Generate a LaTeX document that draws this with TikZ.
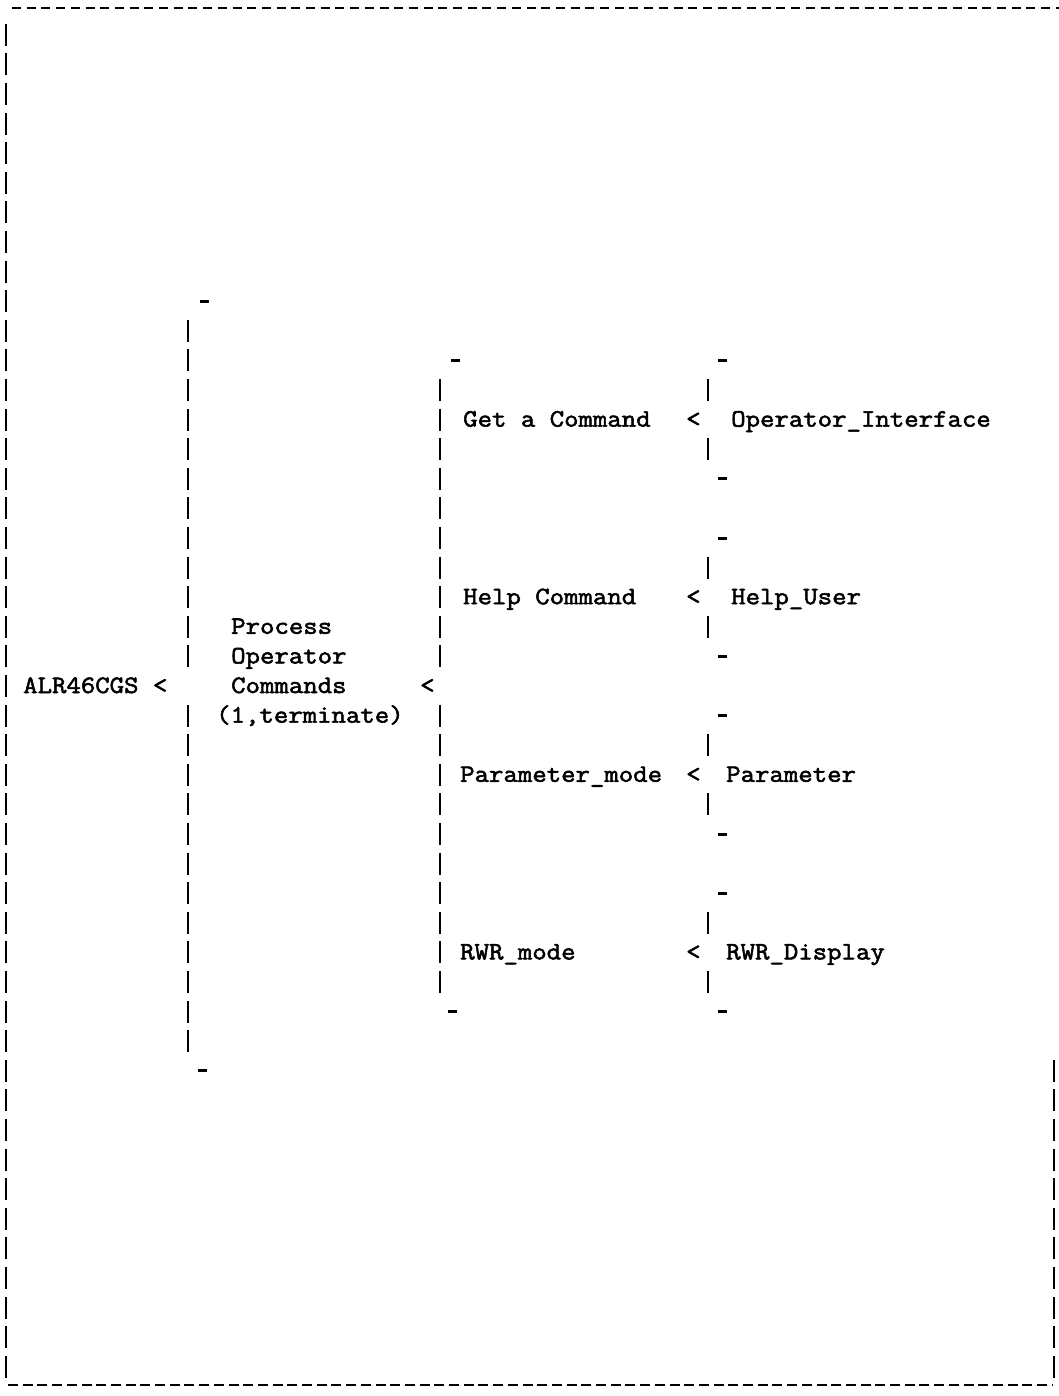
\documentclass[tikz,border=0pt]{standalone}
\usepackage{fontspec}
\newfontfamily\twfont{Latin Modern Mono}[FakeBold=2.2,FakeStretch=1.12]
\begin{document}
\begin{tikzpicture}[x=1pt,y=-1pt,
  txt/.style={anchor=base west,inner sep=0pt,font=\twfont\fontsize{25}{29}\selectfont},
  bar/.style={line width=2.6pt},
  tick/.style={line width=3pt},
  edge/.style={line width=2.8pt}]
\useasboundingbox (0,0) rectangle (1059,1396);
\def\p{29.6}
\def\c{686}
% outer frame
\draw[edge,dash pattern=on 9pt off 5.7pt] (12,8) -- (1059,8);
\draw[edge,dash pattern=on 10pt off 4.7pt] (8,1385) -- (1052,1385);
\foreach \k in {-22,...,23}{\draw[bar] (6,\c+\k*\p-11) -- (6,\c+\k*\p+11);}
\foreach \k in {13,...,23}{\draw[bar] (1054,\c+\k*\p-11) -- (1054,\c+\k*\p+11);}
% bracket 1
\foreach \k in {-12,...,-1,1,2,...,12}{\draw[bar] (188,\c+\k*\p-11) -- (188,\c+\k*\p+11);}
\draw[tick] (200,\c-13*\p) -- (209,\c-13*\p);
\draw[tick] (198,\c+13*\p) -- (207,\c+13*\p);
% bracket 2
\foreach \k in {-10,...,-1,1,2,...,10}{\draw[bar] (440,\c+\k*\p-11) -- (440,\c+\k*\p+11);}
\draw[tick] (451,\c-11*\p) -- (460,\c-11*\p);
\draw[tick] (448,\c+11*\p) -- (457,\c+11*\p);
% leaf brackets
\foreach \m in {-9,-3,3,9}{
  \draw[bar] (708,\c+\m*\p-\p-11) -- (708,\c+\m*\p-\p+11);
  \draw[bar] (708,\c+\m*\p+\p-11) -- (708,\c+\m*\p+\p+11);
  \draw[tick] (718,\c+\m*\p-2*\p) -- (727,\c+\m*\p-2*\p);
  \draw[tick] (718,\c+\m*\p+2*\p) -- (727,\c+\m*\p+2*\p);
}
% texts
\node[txt] (root) at (23,\c+7) {ALR46CGS <};
\node[txt] (p1) at (231,\c-2*\p+7) {Process};
\node[txt] (p2) at (231,\c-\p+7) {Operator};
\node[txt] (p3) at (231,\c+7) {Commands};
\node[txt] (p4) at (216,\c+\p+7) {(1,terminate)};
\node[txt] (lt2) at (420,\c+7) {<};
\node[txt] (g) at (463,\c-9*\p+7) {Get a Command};
\node[txt] (h) at (463,\c-3*\p+7) {Help Command};
\node[txt] (pm) at (460,\c+3*\p+7) {Parameter\_mode};
\node[txt] (rm) at (460,\c+9*\p+7) {RWR\_mode};
\node[txt] (lg) at (686,\c-9*\p+7) {<};
\node[txt] (lh) at (686,\c-3*\p+7) {<};
\node[txt] (lp) at (686,\c+3*\p+7) {<};
\node[txt] (lr) at (686,\c+9*\p+7) {<};
\node[txt] (oi) at (731,\c-9*\p+7) {Operator\_Interface};
\node[txt] (hu) at (731,\c-3*\p+7) {Help\_User};
\node[txt] (pa) at (726,\c+3*\p+7) {Parameter};
\node[txt] (rd) at (726,\c+9*\p+7) {RWR\_Display};
\end{tikzpicture}
\end{document}
